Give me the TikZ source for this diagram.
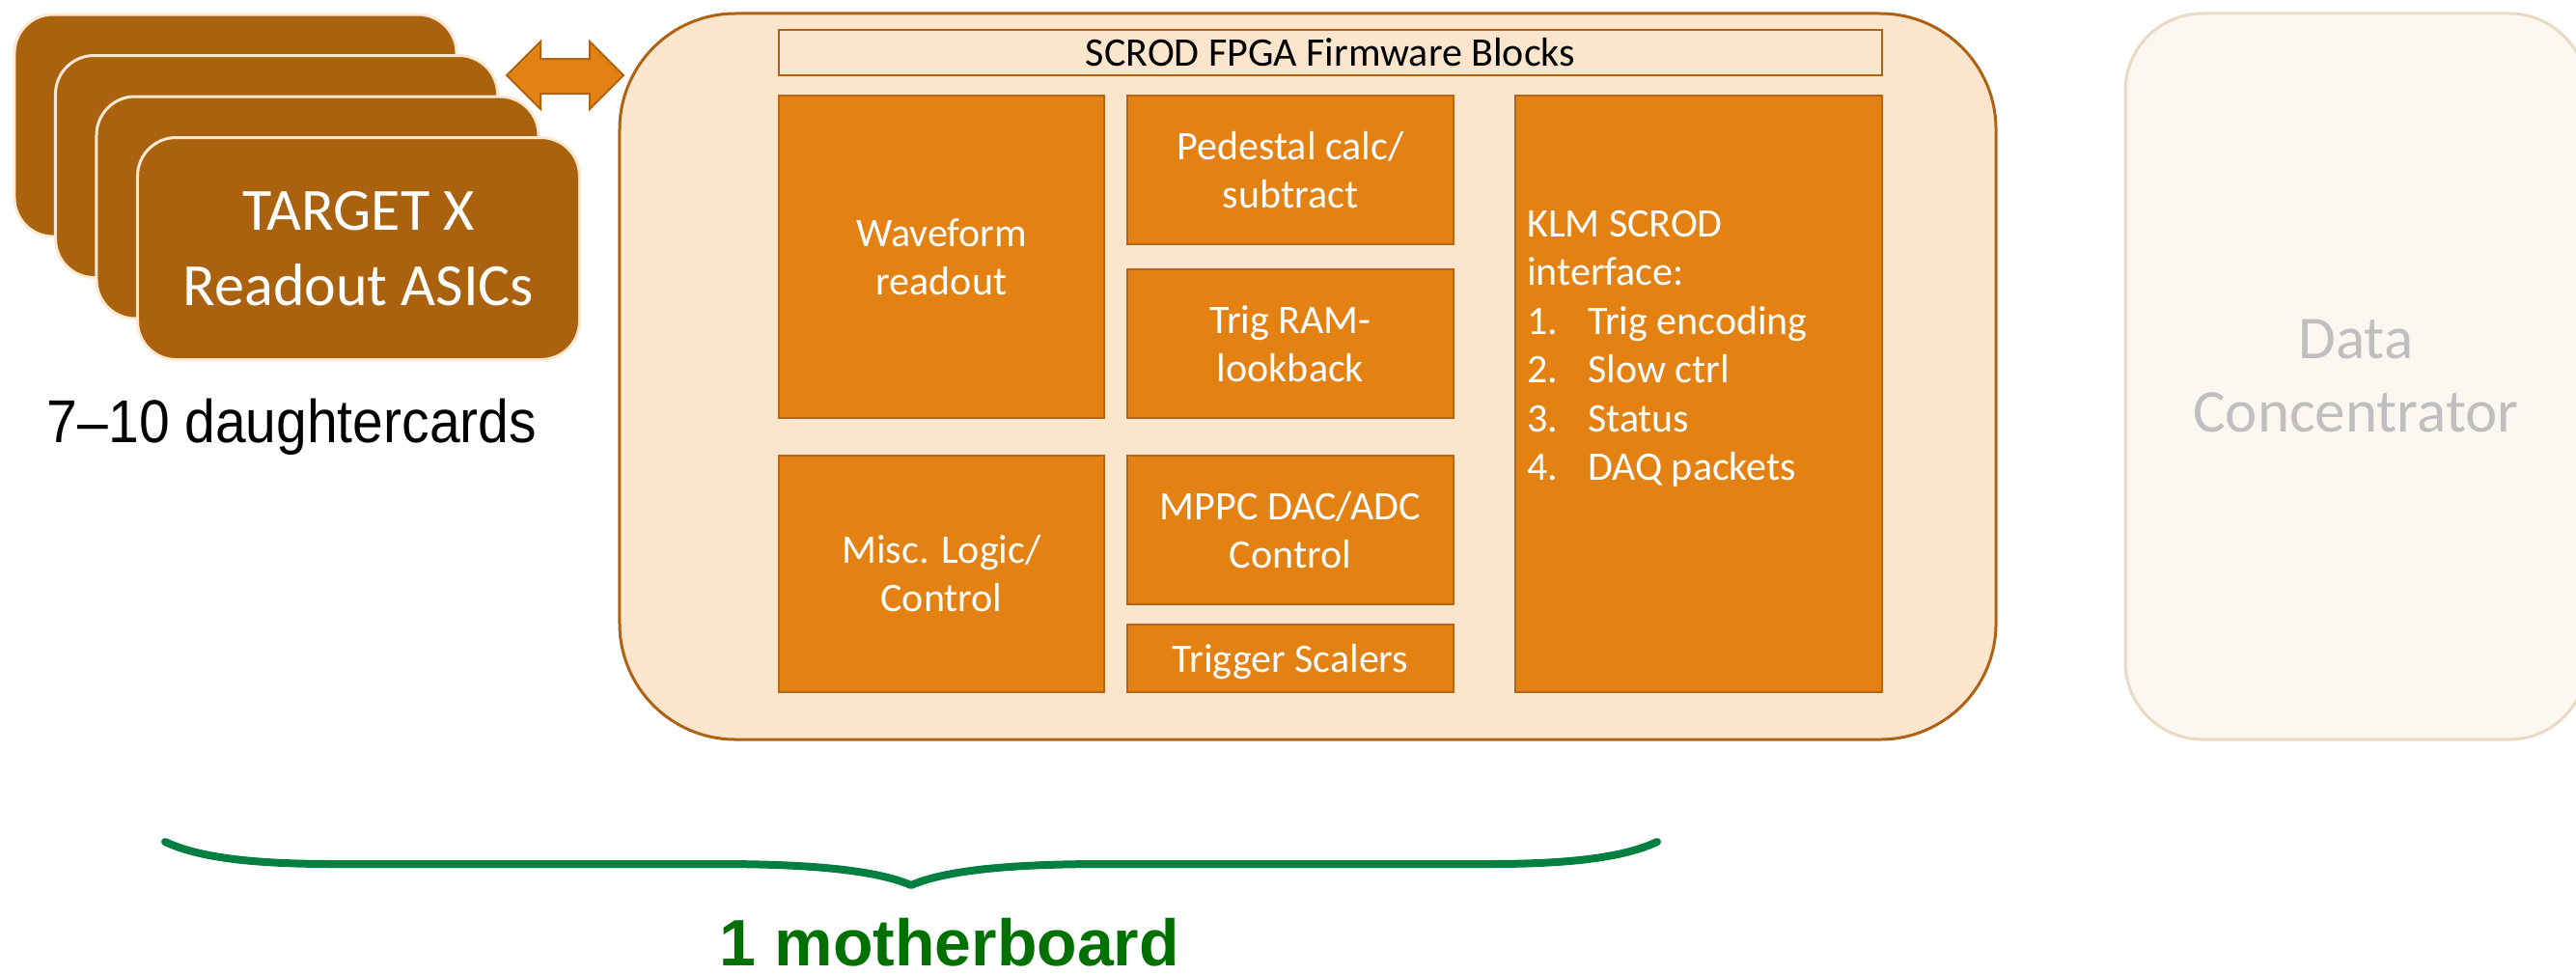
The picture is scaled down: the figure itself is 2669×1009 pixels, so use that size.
\documentclass[tikz,border=0pt]{standalone}
\usepackage{fontspec}
\setmainfont{Carlito}
\newfontfamily\arialfont[Ligatures=TeX]{Liberation Sans}
\definecolor{cardfill}{RGB}{170,98,15}
\definecolor{cardedge}{RGB}{253,233,210}
\definecolor{blockfill}{RGB}{227,130,19}
\definecolor{blockedge}{RGB}{180,102,22}
\definecolor{boardfill}{RGB}{251,229,205}
\definecolor{boardedge}{RGB}{174,99,20}
\definecolor{dcfill}{RGB}{252,247,241}
\definecolor{dcedge}{RGB}{234,218,196}
\definecolor{dctext}{RGB}{191,191,191}
\definecolor{bracegreen}{RGB}{0,128,64}
\definecolor{labelgreen}{RGB}{0,112,0}
\tikzset{
  card/.style={draw=cardedge, line width=3bp, fill=cardfill, rounded corners=40bp,
    minimum width=458bp, minimum height=230bp, inner sep=0pt},
  fwblock/.style={draw=blockedge, line width=2.5bp, fill=blockfill, inner sep=0pt,
    text=white, align=center, font=\fontsize{42bp}{50bp}\selectfont},
}
\begin{document}
\begin{tikzpicture}[x=1bp, y=-1bp]
\path[use as bounding box] (0,0) rectangle (2669,1009);

% stack of daughtercards
\node[card] (card1) at (244,130) {};
\node[card] (card2) at (286.5,172.5) {};
\node[card] (card3) at (329,215) {};
\node[card, text=white, align=center, font=\fontsize{62bp}{78bp}\selectfont] (card4) at (371.5,257.5) {TARGET X\\Readout ASICs};
\node[anchor=base, font=\arialfont\fontsize{57bp}{68bp}\selectfont, yscale=1.1] (dclabel) at (302.5,458) {7\textendash 10 daughtercards};

% motherboard outline
\node[draw=boardedge, line width=3bp, fill=boardfill, rounded corners=120bp,
  minimum width=1426bp, minimum height=752bp, inner sep=0pt] (board) at (1355,390) {};

% block arrow between daughtercards and motherboard
\draw[draw=boardedge, line width=2bp, fill=blockfill, line join=miter]
  (525,78) -- (560,43) -- (560,61) -- (611,61) -- (611,43) -- (646,78)
  -- (611,113) -- (611,97) -- (560,97) -- (560,113) -- cycle;

% firmware blocks
\node[draw=boardedge, line width=2.5bp, fill=boardfill, minimum width=1143bp, minimum height=47bp,
  inner sep=0pt, font=\fontsize{42bp}{50bp}\selectfont] (header) at (1378.5,54.5) {SCROD FPGA Firmware Blocks};
\node[fwblock, minimum width=337bp, minimum height=334bp] (wave) at (975.5,266) {Waveform\\readout};
\node[fwblock, minimum width=338bp, minimum height=154bp] (ped) at (1337,176) {Pedestal calc/\\subtract};
\node[fwblock, minimum width=338bp, minimum height=154bp] (trigram) at (1337,356) {Trig RAM-\\lookback};
\node[fwblock, minimum width=337bp, minimum height=245bp] (misc) at (975.5,594.5) {Misc. Logic/\\Control};
\node[fwblock, minimum width=338bp, minimum height=154bp] (mppc) at (1337,549) {MPPC DAC/ADC\\Control};
\node[fwblock, minimum width=338bp, minimum height=70bp, text depth=0pt] (scalers) at (1337,682) {Trigger Scalers};
\node[fwblock, minimum width=380bp, minimum height=618bp] (klm) at (1760,408) {};
\node[anchor=north west, inner sep=0pt, text=white, align=left,
  font=\fontsize{42bp}{50.5bp}\selectfont] (klmtext) at (1582,218)
  {KLM SCROD\\interface:\\
   \makebox[63bp][l]{1.}Trig encoding\\
   \makebox[63bp][l]{2.}Slow ctrl\\
   \makebox[63bp][l]{3.}Status\\
   \makebox[63bp][l]{4.}DAQ packets};

% data concentrator (faded)
\node[draw=dcedge, line width=3bp, fill=dcfill, rounded corners=80bp,
  minimum width=478bp, minimum height=752bp, inner sep=0pt, text=dctext, align=center,
  font=\fontsize{63bp}{76bp}\selectfont] (dc) at (2441,390) {Data\\Concentrator};

% brace under the motherboard
\draw[bracegreen, line width=8bp, line cap=round, line join=round]
  (171,872) .. controls (205,888) and (260,895) .. (344,895) -- (742,895)
  .. controls (830,895) and (905,900) .. (944,917)
  .. controls (983,900) and (1058,895) .. (1146,895) -- (1544,895)
  .. controls (1628,895) and (1683,888) .. (1717,872);
\node[anchor=base, text=labelgreen, font=\arialfont\bfseries\fontsize{68bp}{80bp}\selectfont] (mblabel) at (984,1000) {1 motherboard};
\end{tikzpicture}
\end{document}
